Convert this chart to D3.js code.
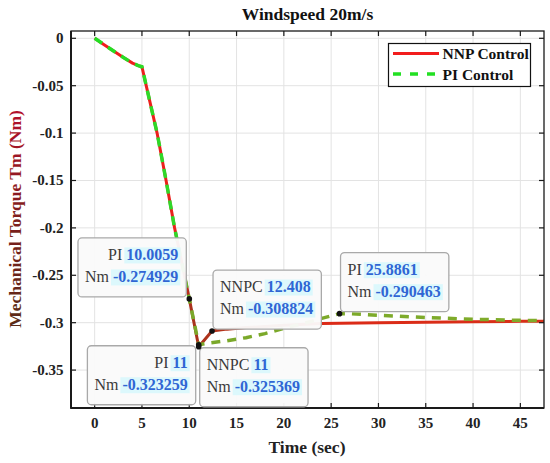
<!DOCTYPE html>
<html>
<head>
<meta charset="utf-8">
<script src="https://cdn.jsdelivr.net/npm/d3@7/dist/d3.min.js"></script>
<style>
  html, body { margin: 0; padding: 0; background: #ffffff; }
  svg { display: block; }
  text { font-family: "Liberation Serif", "Times New Roman", serif; }
</style>
</head>
<body>
<svg id="chart" width="550" height="463"></svg>
<script>
// ---------------- data ----------------
const nnpTime   = [0, 1, 2, 3, 4, 4.6, 5, 5.45, 6.6, 7.55, 8.45, 10.0059, 11, 12.408, 14, 16, 18, 20, 24, 30, 35, 40, 45, 47.5];
const nnpTorque = [0, -0.0067, -0.0134, -0.0200, -0.0262, -0.0288, -0.0300, -0.0500, -0.1000, -0.1500, -0.2000, -0.274929, -0.325369, -0.308824, -0.3068, -0.3052, -0.3040, -0.3028, -0.3008, -0.3000, -0.2995, -0.2991, -0.2986, -0.2984];

const piTime    = [0, 1, 2, 3, 4, 4.6, 5, 5.45, 6.6, 7.55, 8.45, 10.0059, 11, 12, 14, 16, 18, 20, 22, 24, 25.8861, 27, 30, 35, 40, 45, 47.5];
const piTorque  = [0, -0.0067, -0.0134, -0.0200, -0.0262, -0.0288, -0.0300, -0.0500, -0.1000, -0.1500, -0.2000, -0.274929, -0.323259, -0.3215, -0.3190, -0.3158, -0.3115, -0.3060, -0.3010, -0.2955, -0.290463, -0.2906, -0.2922, -0.2945, -0.2964, -0.2975, -0.2978];

const xTicks = [0, 5, 10, 15, 20, 25, 30, 35, 40, 45];
const yTicks = [0, -0.05, -0.1, -0.15, -0.2, -0.25, -0.3, -0.35];
const yTickLabels = ["0", "-0.05", "-0.1", "-0.15", "-0.2", "-0.25", "-0.3", "-0.35"];

const seriesNames = ["NNP Control", "PI Control"];

// data tips
const tipName   = ["PI", "PI", "NNPC", "NNPC", "PI"];
const tipX      = [10.0059, 11, 11, 12.408, 25.8861];
const tipY      = [-0.274929, -0.323259, -0.325369, -0.308824, -0.290463];
const tipXText  = ["10.0059", "11", "11", "12.408", "25.8861"];
const tipYText  = ["-0.274929", "-0.323259", "-0.325369", "-0.308824", "-0.290463"];
const tipPlace  = ["ul", "ll", "lr", "ur", "ur"];

// ---------------- layout ----------------
const L = 71, R = 544, T = 31, B = 408;
const svg = d3.select("#chart");

const x = d3.scaleLinear().domain([-2.5, 47.5]).range([L, R]);
const y = d3.scaleLinear().domain([-0.39, 0.0077]).range([B, T]);

// grid
const grid = svg.append("g");
grid.selectAll("line.gx").data(xTicks).join("line")
  .attr("x1", d => x(d)).attr("x2", d => x(d)).attr("y1", T).attr("y2", B)
  .attr("stroke", "#e3e3e3").attr("stroke-width", 1);
grid.selectAll("line.gy").data(yTicks).join("line")
  .attr("y1", d => y(d)).attr("y2", d => y(d)).attr("x1", L).attr("x2", R)
  .attr("stroke", "#e3e3e3").attr("stroke-width", 1);

// gradients for the line colours (slightly darker after the dip, as in the picture)
const defs = svg.append("defs");
function grad(id, stops) {
  const g = defs.append("linearGradient").attr("id", id)
    .attr("gradientUnits", "userSpaceOnUse")
    .attr("x1", x(0)).attr("x2", x(47.5)).attr("y1", 0).attr("y2", 0);
  stops.forEach(s => g.append("stop")
    .attr("offset", (x(s[0]) - x(0)) / (x(47.5) - x(0)))
    .attr("stop-color", s[1]));
}
grad("gRed", [[0, "#f21c1c"], [8.8, "#e8221c"], [10.2, "#a8321c"], [14, "#b5341c"], [24, "#dc2a18"], [47.5, "#d83018"]]);
grad("gGreen", [[0, "#22e022"], [8.8, "#30d82a"], [10.2, "#7aa82a"], [47.5, "#80ac2a"]]);

const line = d3.line().x(d => x(d[0])).y(d => y(d[1]));
const plot = svg.append("g");
plot.append("path")
  .datum(nnpTime.map((t, i) => [t, nnpTorque[i]]))
  .attr("d", line).attr("fill", "none")
  .attr("stroke", "url(#gRed)").attr("stroke-width", 3)
  .attr("stroke-linejoin", "round");
plot.append("path")
  .datum(piTime.map((t, i) => [t, piTorque[i]]))
  .attr("d", line).attr("fill", "none")
  .attr("stroke", "url(#gGreen)").attr("stroke-width", 3.5)
  .attr("stroke-dasharray", "9,7");

// axes box
const ax = svg.append("g");
ax.append("rect").attr("x", L).attr("y", T).attr("width", R - L).attr("height", B - T)
  .attr("fill", "none").attr("stroke", "#1a1a1a").attr("stroke-width", 1.3);
ax.append("line").attr("x1", L).attr("x2", L).attr("y1", T).attr("y2", B + 0.8)
  .attr("stroke", "#1a1a1a").attr("stroke-width", 2);
ax.append("line").attr("x1", L).attr("x2", R).attr("y1", B).attr("y2", B)
  .attr("stroke", "#1a1a1a").attr("stroke-width", 2);

// ticks (inward on all four sides)
const tk = 5;
ax.selectAll("line.xb").data(xTicks).join("line")
  .attr("x1", d => x(d)).attr("x2", d => x(d)).attr("y1", B).attr("y2", B - tk)
  .attr("stroke", "#1a1a1a").attr("stroke-width", 1.2);
ax.selectAll("line.xt").data(xTicks).join("line")
  .attr("x1", d => x(d)).attr("x2", d => x(d)).attr("y1", T).attr("y2", T + tk)
  .attr("stroke", "#1a1a1a").attr("stroke-width", 1.2);
ax.selectAll("line.yl").data(yTicks).join("line")
  .attr("y1", d => y(d)).attr("y2", d => y(d)).attr("x1", L).attr("x2", L + tk)
  .attr("stroke", "#1a1a1a").attr("stroke-width", 1.2);
ax.selectAll("line.yr").data(yTicks).join("line")
  .attr("y1", d => y(d)).attr("y2", d => y(d)).attr("x1", R).attr("x2", R - tk)
  .attr("stroke", "#1a1a1a").attr("stroke-width", 1.2);

// tick labels
ax.selectAll("text.xl").data(xTicks).join("text")
  .attr("x", d => x(d)).attr("y", 428)
  .attr("text-anchor", "middle").attr("font-size", 15).attr("font-weight", "bold")
  .attr("fill", "#222").text(d => String(d));
ax.selectAll("text.yl").data(yTicks).join("text")
  .attr("x", 63.5).attr("y", d => y(d) + 5)
  .attr("text-anchor", "end").attr("font-size", 15).attr("font-weight", "bold")
  .attr("fill", "#222").text((d, i) => yTickLabels[i]);

// title & axis labels
svg.append("text").attr("x", 307.5).attr("y", 20)
  .attr("text-anchor", "middle").attr("font-size", 17.5).attr("font-weight", "bold")
  .attr("fill", "#111").text("Windspeed 20m/s");
svg.append("text").attr("x", 307).attr("y", 453)
  .attr("text-anchor", "middle").attr("font-size", 17.5).attr("font-weight", "bold")
  .attr("fill", "#222").text("Time (sec)");

const yg = defs.append("linearGradient").attr("id", "gYLab")
  .attr("x1", 0).attr("x2", 1).attr("y1", 0).attr("y2", 0);
yg.append("stop").attr("offset", 0).attr("stop-color", "#5a2a18");
yg.append("stop").attr("offset", 0.45).attr("stop-color", "#7a1f1c");
yg.append("stop").attr("offset", 1).attr("stop-color", "#b3102c");
svg.append("text")
  .attr("transform", "translate(21,219) rotate(-90)")
  .attr("text-anchor", "middle").attr("font-size", 17.5).attr("font-weight", "bold")
  .attr("fill", "url(#gYLab)").text("Mechanical Torque Tm (Nm)");

// legend
const lg = svg.append("g");
lg.append("rect").attr("x", 388.5).attr("y", 43.5).attr("width", 142).attr("height", 43)
  .attr("fill", "#fff").attr("stroke", "#111").attr("stroke-width", 1.2);
lg.append("line").attr("x1", 393).attr("x2", 439).attr("y1", 53.5).attr("y2", 53.5)
  .attr("stroke", "#f21c1c").attr("stroke-width", 3);
lg.append("line").attr("x1", 393).attr("x2", 439).attr("y1", 74).attr("y2", 74)
  .attr("stroke", "#22e022").attr("stroke-width", 3.5).attr("stroke-dasharray", "8,9");
lg.selectAll("text").data(seriesNames).join("text")
  .attr("x", 442.5).attr("y", (d, i) => 59 + i * 21)
  .attr("font-size", 15.5).attr("font-weight", "bold").attr("fill", "#111")
  .text(d => d);

// data tips
const tips = svg.append("g");
tipX.forEach((tx, i) => {
  const px = x(tx), py = y(tipY[i]);
  const g = tips.append("g");
  const rect = g.append("rect");
  const hl = g.append("g");
  const lines = [[tipName[i], tipXText[i]], ["Nm", tipYText[i]]];
  const tEls = lines.map(l => {
    const t = g.append("text").attr("font-size", 16);
    t.append("tspan").attr("fill", "#3a3a3a").text(l[0] + " ");
    t.append("tspan").attr("fill", "#2f66d4").attr("font-weight", "bold").text(l[1]);
    return t;
  });
  const widths = tEls.map(t => t.node().getComputedTextLength());
  const w = Math.max(...widths) + 15, h = 59;
  const p = tipPlace[i];
  const left = (p === "ul" || p === "ll") ? px - 3 - w : px + 1;
  const top = (p === "ul" || p === "ur") ? py - 2 - h : py + 1;
  rect.attr("x", left).attr("y", top).attr("width", w).attr("height", h)
    .attr("rx", 4).attr("fill", "#fafafa").attr("fill-opacity", 0.96)
    .attr("stroke", "#a9a9a9").attr("stroke-width", 1.3);
  const rightAlign = (p === "ul" || p === "ll");
  tEls.forEach((t, j) => {
    const base = top + 22 + j * 22;
    t.attr("y", base);
    let start;
    if (rightAlign) { t.attr("x", left + w - 8).attr("text-anchor", "end"); start = left + w - 8 - widths[j]; }
    else { t.attr("x", left + 7).attr("text-anchor", "start"); start = left + 7; }
    const spans = t.selectAll("tspan").nodes();
    const lw = spans[0].getComputedTextLength();
    const vw = spans[1].getComputedTextLength();
    hl.append("rect").attr("x", start + lw - 2).attr("y", base - 12.5)
      .attr("width", vw + 4).attr("height", 16)
      .attr("fill", "#dcf8fc");
  });
  g.append("circle").attr("cx", px).attr("cy", py).attr("r", 2.8).attr("fill", "#111");
});
</script>
</body>
</html>
